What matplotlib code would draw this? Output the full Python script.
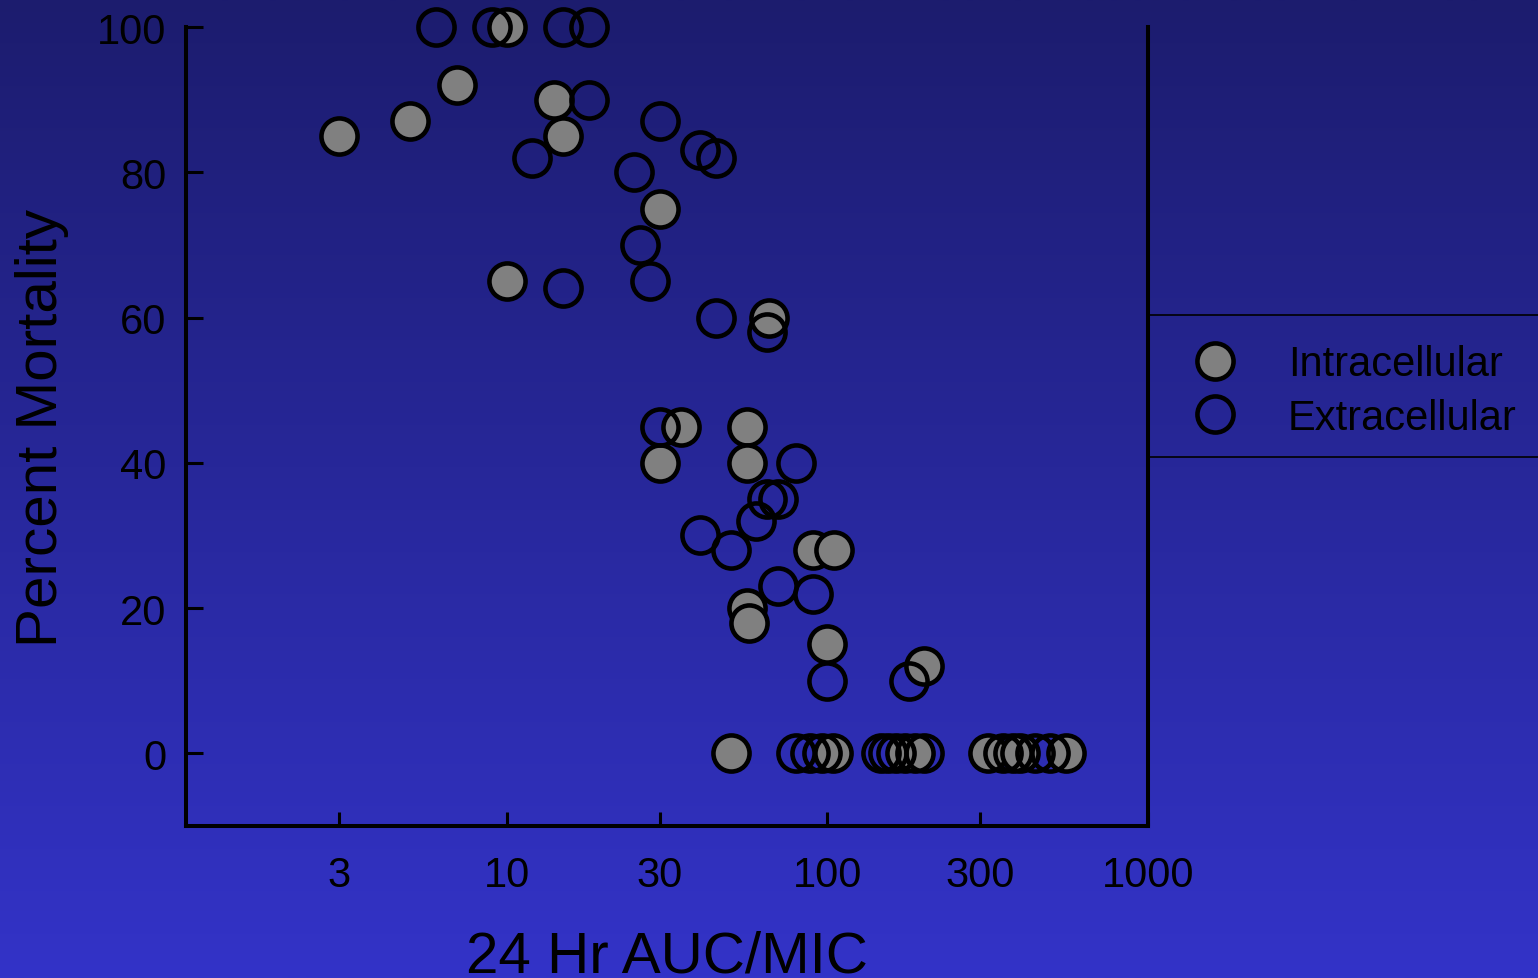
import numpy as np
import matplotlib
matplotlib.use("Agg")
import matplotlib.pyplot as plt
from matplotlib.lines import Line2D

plt.rcParams["font.family"] = ["Liberation Sans", "DejaVu Sans"]

# --- data ---
intra_auc = [3, 5, 7, 10, 14, 15, 30, 10, 66, 35, 56, 30, 56, 90, 105, 56, 57,
             100, 200, 50, 104, 175, 188, 317, 399, 555]
intra_mort = [85, 87, 92, 100, 90, 85, 75, 65, 60, 45, 45, 40, 40, 28, 28, 20, 18,
              15, 12, 0, 0, 0, 0, 0, 0, 0]

extra_auc = [6, 9, 15, 18, 18, 12, 30, 40, 45, 25, 26, 28, 15, 45, 65, 30, 80,
             65, 70, 60, 40, 50, 70, 90, 100, 180,
             80, 88, 96, 147, 155, 164, 200, 353, 379, 444, 494]
extra_mort = [100, 100, 100, 100, 90, 82, 87, 83, 82, 80, 70, 65, 64, 60, 58, 45, 40,
              35, 35, 32, 30, 28, 23, 22, 10, 10,
              0, 0, 0, 0, 0, 0, 0, 0, 0, 0, 0]

x_ticks = [3, 10, 30, 100, 300, 1000]
x_ticklabels = ["3", "10", "30", "100", "300", "1000"]
y_ticks = [0, 20, 40, 60, 80, 100]

W, H = 1538, 979
fig = plt.figure(figsize=(W / 100, H / 100), dpi=100)

# background gradient (dark navy top -> bright blue bottom)
bg = fig.add_axes([0, 0, 1, 1], zorder=-1)
top = np.array([0x1c, 0x1c, 0x6e]) / 255
bot = np.array([0x33, 0x33, 0xc8]) / 255
t = np.linspace(0, 1, 256)[:, None]
grad = (top[None, :] * (1 - t) + bot[None, :] * t)[:, None, :]
bg.imshow(grad, aspect="auto", extent=[0, 1, 0, 1], interpolation="bilinear")
bg.axis("off")

ax = fig.add_axes([186 / W, 1 - 827 / H, (1148 - 186) / W, (827 - 28) / H])
ax.patch.set_visible(False)

ms, mew = 26.0, 3.3
ax.plot(intra_auc, intra_mort, "o", ms=ms, mew=mew, mfc="#808080", mec="black",
        clip_on=False, zorder=3)
ax.plot(extra_auc, extra_mort, "o", ms=ms, mew=mew, mfc="none", mec="black",
        clip_on=False, zorder=4)

ax.set_xscale("log")
ax.set_xlim(1, 1000)
ax.set_ylim(-10, 100)
ax.set_xticks(x_ticks)
ax.set_xticklabels(x_ticklabels)
ax.xaxis.set_minor_locator(matplotlib.ticker.NullLocator())
ax.set_yticks(y_ticks)

for s in ["left", "right", "bottom"]:
    ax.spines[s].set_linewidth(2.9)
    ax.spines[s].set_color("black")
ax.spines["top"].set_visible(False)

ax.tick_params(axis="y", direction="in", length=12, width=2.2, pad=14,
               labelsize=30, colors="black", right=False)
ax.tick_params(axis="x", direction="in", length=10, width=2.2, pad=21,
               labelsize=30, colors="black", top=False)

# the reference crops this label at the bottom edge, so keep it there
ax.set_xlabel("24 Hr AUC/MIC", fontsize=42)
ax.xaxis.set_label_coords(0.5, -0.129)
ax.set_ylabel("Percent Mortality", fontsize=42)
ax.yaxis.set_label_coords(-0.122, 0.5)

handles = [
    Line2D([], [], ls="none", marker="o", ms=ms, mew=mew, mfc="#808080", mec="black"),
    Line2D([], [], ls="none", marker="o", ms=ms, mew=mew, mfc="none", mec="black"),
]
fig.legend(handles, ["Intracellular", "Extracellular"], loc="center left",
           bbox_to_anchor=(1194 / W, 1 - 392 / H), frameon=False, fontsize=30,
           handlelength=1.0, handletextpad=1.25, labelspacing=0.32,
           borderpad=0, borderaxespad=0)

# legend box rules
for yy in (316, 458):
    fig.add_artist(Line2D([1148 / W, 1], [1 - yy / H, 1 - yy / H], color="black", lw=1.2))

fig.savefig("out.png", dpi=100)
